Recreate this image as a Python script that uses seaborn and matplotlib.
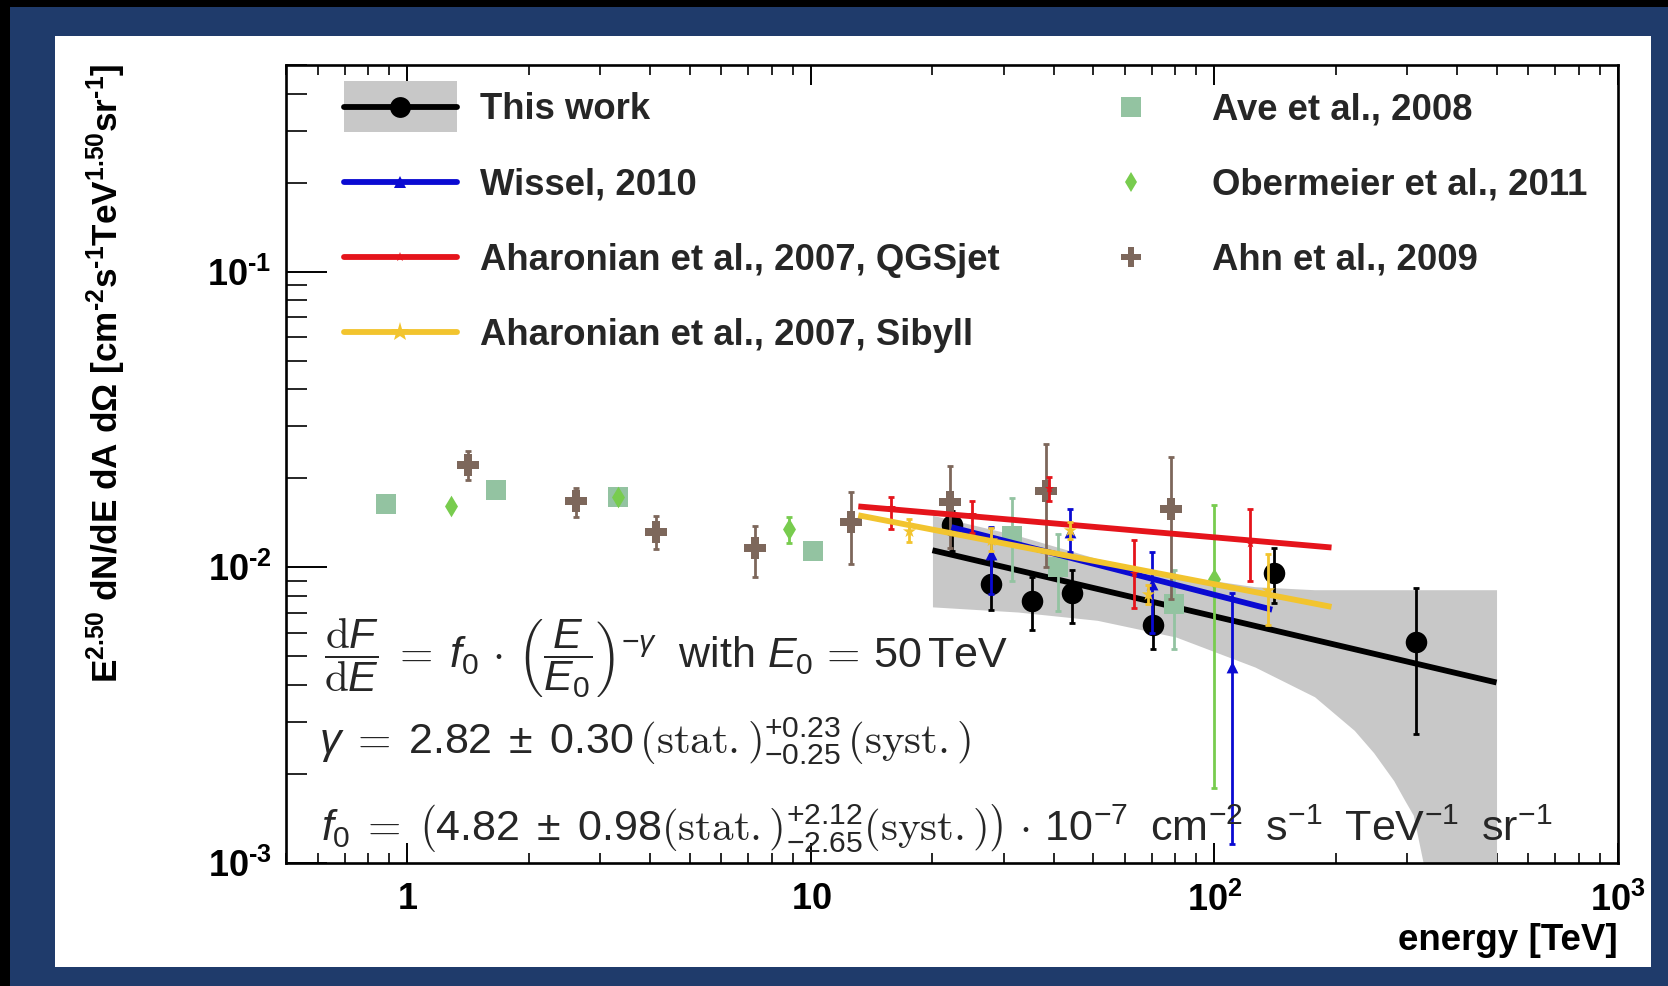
import numpy as np
import matplotlib
matplotlib.use("Agg")
import matplotlib.pyplot as plt
import seaborn as sns
from matplotlib.lines import Line2D
from matplotlib.patches import Rectangle
from matplotlib.legend_handler import HandlerLine2D
from matplotlib.ticker import FixedLocator, FixedFormatter, LogLocator, NullFormatter

# ---------------- data (energy in TeV, flux scaled by E^2.5) ----------------
# This work
E_this = [22.4, 28.0, 35.3, 44.4, 70.4, 140.5, 315.0]
F_this = [0.0139, 0.0088, 0.0077, 0.0082, 0.0064, 0.0096, 0.0056]
lo_this = [0.0114, 0.0072, 0.00616, 0.00646, 0.0053, 0.0076, 0.00274]
hi_this = [0.0155, 0.0105, 0.0093, 0.0098, 0.0077, 0.0116, 0.0085]

# power-law fit of this work
f0 = 4.82e-7          # cm^-2 s^-1 TeV^-1 sr^-1
gamma = 2.82
E0 = 50.0             # TeV
E_fit = [20.0, 500.0]

# fit uncertainty band
band_E = [20.0, 32.6, 51.2, 80.3, 126.0, 177.0, 222.0, 248.0, 278.0, 296.0, 311.0, 329.0, 400.0, 500.0]
band_lo = [0.00735, 0.00706, 0.00662, 0.00581, 0.0046, 0.00365, 0.00281, 0.00236, 0.0019, 0.00163,
           0.00145, 0.0010, 0.0005, 0.0003]
band_hi = [0.0150, 0.0128, 0.0107, 0.0094, 0.0086, 0.0084, 0.0084, 0.0084, 0.0084, 0.0084,
           0.0084, 0.0084, 0.0084, 0.0084]

# Wissel, 2010
E_wis = [28.0, 43.9, 69.9, 110.6]
F_wis = [0.0111, 0.0132, 0.0088, 0.0046]
lo_wis = [0.0081, 0.0113, 0.0060, 0.00116]
hi_wis = [0.0137, 0.0158, 0.0113, 0.0082]
E_wis_line = [22.3, 139.0]
F_wis_line = [0.01367, 0.00719]

# Aharonian et al., 2007, QGSjet
E_qgs = [15.8, 25.0, 38.9, 63.0, 122.6]
F_qgs = [0.0160, 0.0152, 0.0185, 0.0096, 0.0121]
lo_qgs = [0.0135, 0.0131, 0.0168, 0.0073, 0.0090]
hi_qgs = [0.0173, 0.0168, 0.0202, 0.0124, 0.0158]
E_qgs_line = [13.1, 195.0]
F_qgs_line = [0.01607, 0.01167]

# Aharonian et al., 2007, Sibyll
E_sib = [17.5, 28.0, 43.9, 68.3, 135.5]
F_sib = [0.0133, 0.0124, 0.0134, 0.0081, 0.0084]
lo_sib = [0.0122, 0.0114, 0.0125, 0.0075, 0.0064]
hi_sib = [0.0146, 0.0136, 0.0142, 0.0087, 0.0111]
E_sib_line = [13.1, 195.0]
F_sib_line = [0.0150, 0.00735]

# Ave et al., 2008
E_ave = [0.887, 1.66, 3.33, 10.1, 31.5, 40.9, 79.4]
F_ave = [0.0164, 0.0182, 0.0173, 0.0114, 0.0128, 0.0100, 0.0075]
lo_ave = [0.0164, 0.0182, 0.0173, 0.0114, 0.0090, 0.0071, 0.0053]
hi_ave = [0.0164, 0.0182, 0.0173, 0.0114, 0.0172, 0.0130, 0.0098]

# Obermeier et al., 2011
E_obe = [1.28, 3.33, 8.81, 100.0]
F_obe = [0.0161, 0.0173, 0.0135, 0.0091]
lo_obe = [0.0161, 0.0173, 0.0121, 0.0018]
hi_obe = [0.0161, 0.0173, 0.0148, 0.0163]

# Ahn et al., 2009
E_ahn = [1.41, 2.61, 4.14, 7.25, 12.6, 22.1, 38.3, 78.2]
F_ahn = [0.0222, 0.0167, 0.0132, 0.0116, 0.0142, 0.0166, 0.0181, 0.0158]
lo_ahn = [0.0198, 0.0148, 0.0115, 0.0093, 0.0103, 0.0116, 0.0100, 0.0078]
hi_ahn = [0.0248, 0.0186, 0.0149, 0.0138, 0.0180, 0.0221, 0.0262, 0.0236]

x_ticks = [1, 10, 100, 1000]
x_ticklabels = [r"$\mathbf{1}$", r"$\mathbf{10}$", r"$\mathbf{10^{2}}$", r"$\mathbf{10^{3}}$"]
y_ticks = [1e-3, 1e-2, 1e-1]
y_ticklabels = [r"$\mathbf{10^{‐3}}$", r"$\mathbf{10^{‐2}}$", r"$\mathbf{10^{‐1}}$"]

# ---------------- style ----------------
SLIDE_BLUE = "#1f3b6b"
BAND_GREY = "#c8c8c8"
BLUE = "#0a0ad2"
RED = "#e5141b"
YELLOW = "#f2c42e"
AVE_GREEN = "#93c3a1"
OBE_GREEN = "#78cc4e"
AHN_BROWN = "#7d675b"
LW_FIT = 4.2

sns.set_theme(style="ticks")
plt.rcParams.update({
    "font.family": ["Liberation Sans", "DejaVu Sans"],
    "mathtext.fontset": "custom",
    "mathtext.rm": "cmr10",
    "mathtext.it": "Liberation Sans:italic",
    "mathtext.bf": "Liberation Sans:bold",
    "mathtext.sf": "Liberation Sans",
    "mathtext.default": "sf",
    "axes.linewidth": 1.9,
    "axes.edgecolor": "black",
    "axes.formatter.use_mathtext": True,
})

W_PX, H_PX = 1668, 986
fig = plt.figure(figsize=(W_PX / 100, H_PX / 100), dpi=100, facecolor=SLIDE_BLUE)

# slide frame: black edges, white panel
fig.add_artist(Rectangle((0, 1 - 7 / H_PX), 1, 7 / H_PX, transform=fig.transFigure,
                         facecolor="black", edgecolor="none", zorder=-2))
fig.add_artist(Rectangle((0, 0), 10 / W_PX, 1, transform=fig.transFigure,
                         facecolor="black", edgecolor="none", zorder=-2))
fig.add_artist(Rectangle((55 / W_PX, 1 - 967 / H_PX), (1651 - 55) / W_PX, (967 - 36) / H_PX,
                         transform=fig.transFigure, facecolor="white", edgecolor="none", zorder=-1))

ax_l, ax_r, ax_t, ax_b = 286, 1618, 65, 863
ax = fig.add_axes([ax_l / W_PX, 1 - ax_b / H_PX, (ax_r - ax_l) / W_PX, (ax_b - ax_t) / H_PX])
ax.set_facecolor("white")
ax.set_xscale("log")
ax.set_yscale("log")


def errbars(E, F, lo, hi, color, z):
    F = np.asarray(F)
    yerr = [F - np.asarray(lo), np.asarray(hi) - F]
    ax.errorbar(E, F, yerr=yerr, fmt="none", ecolor=color, elinewidth=2.0,
                capsize=2.4, capthick=2.0, zorder=z)


# uncertainty band of the fit
ax.fill_between(band_E, band_lo, band_hi, color=BAND_GREY, linewidth=0, zorder=1)

# fit line drawn from the quoted parameters
E_fit_arr = np.array(E_fit)
F_fit = f0 * (E_fit_arr / E0) ** (-gamma) * E_fit_arr ** 2.5
sns.lineplot(x=E_fit, y=F_fit, ax=ax, color="black", linewidth=LW_FIT,
             solid_capstyle="butt", zorder=2, sort=False, estimator=None)

# This work
errbars(E_this, F_this, lo_this, hi_this, "black", 2.2)
sns.scatterplot(x=E_this, y=F_this, ax=ax, marker="o", s=15.5 ** 2, color="black",
                linewidth=0, zorder=2.3, legend=False)

# Ave et al.
errbars(E_ave, F_ave, lo_ave, hi_ave, AVE_GREEN, 3.0)
sns.scatterplot(x=E_ave, y=F_ave, ax=ax, marker="s", s=15 ** 2, color=AVE_GREEN,
                linewidth=0, zorder=3.1, legend=False)

# Ahn et al.
errbars(E_ahn, F_ahn, lo_ahn, hi_ahn, AHN_BROWN, 3.2)
sns.scatterplot(x=E_ahn, y=F_ahn, ax=ax, marker="P", s=16.5 ** 2, color=AHN_BROWN,
                linewidth=0, zorder=3.3, legend=False)

# Obermeier et al.
errbars(E_obe, F_obe, lo_obe, hi_obe, OBE_GREEN, 3.4)
sns.scatterplot(x=E_obe, y=F_obe, ax=ax, marker="d", s=11 ** 2, color=OBE_GREEN,
                linewidth=0, zorder=3.5, legend=False)

# Wissel
sns.lineplot(x=E_wis_line, y=F_wis_line, ax=ax, color=BLUE, linewidth=LW_FIT,
             solid_capstyle="butt", zorder=4.0, sort=False, estimator=None)
errbars(E_wis, F_wis, lo_wis, hi_wis, BLUE, 4.1)
sns.scatterplot(x=E_wis, y=F_wis, ax=ax, marker="^", s=8.5 ** 2, color=BLUE,
                linewidth=0, zorder=4.2, legend=False)

# Aharonian QGSjet
sns.lineplot(x=E_qgs_line, y=F_qgs_line, ax=ax, color=RED, linewidth=LW_FIT,
             solid_capstyle="butt", zorder=4.3, sort=False, estimator=None)
errbars(E_qgs, F_qgs, lo_qgs, hi_qgs, RED, 4.4)
sns.scatterplot(x=E_qgs, y=F_qgs, ax=ax, marker="*", s=7 ** 2, color=RED,
                linewidth=0, zorder=4.5, legend=False)

# Aharonian Sibyll
sns.lineplot(x=E_sib_line, y=F_sib_line, ax=ax, color=YELLOW, linewidth=LW_FIT,
             solid_capstyle="butt", zorder=4.6, sort=False, estimator=None)
errbars(E_sib, F_sib, lo_sib, hi_sib, YELLOW, 4.7)
sns.scatterplot(x=E_sib, y=F_sib, ax=ax, marker="*", s=10 ** 2, color=YELLOW,
                linewidth=0, zorder=4.8, legend=False)

ax.set_xlim(0.5, 1000)
ax.set_ylim(1e-3, 0.5)
ax.set_xlabel("")
ax.set_ylabel("")

# ticks
ax.xaxis.set_major_locator(FixedLocator(x_ticks))
ax.xaxis.set_major_formatter(FixedFormatter(x_ticklabels))
ax.xaxis.set_minor_locator(LogLocator(base=10, subs=np.arange(2, 10), numticks=30))
ax.xaxis.set_minor_formatter(NullFormatter())
ax.yaxis.set_major_locator(FixedLocator(y_ticks))
ax.yaxis.set_major_formatter(FixedFormatter(y_ticklabels))
ax.yaxis.set_minor_locator(LogLocator(base=10, subs=np.arange(2, 10), numticks=30))
ax.yaxis.set_minor_formatter(NullFormatter())
ax.tick_params(axis="x", which="major", direction="in", length=14.5, width=1.4,
               top=True, bottom=True, labelsize=26, pad=14, colors="black")
ax.tick_params(axis="x", which="minor", direction="in", length=7, width=1.4,
               top=True, bottom=True)
ax.tick_params(axis="y", which="major", direction="in", length=29.5, width=1.4,
               left=True, right=False, labelsize=26, pad=10.3, colors="black")
ax.tick_params(axis="y", which="minor", direction="in", length=15, width=1.4,
               left=True, right=False)
for s in ax.spines.values():
    s.set_linewidth(1.9)
    s.set_zorder(6)


# legend
class HandlerBand(HandlerLine2D):
    def create_artists(self, legend, orig_handle, xdescent, ydescent, width, height,
                       fontsize, trans):
        arts = super().create_artists(legend, orig_handle, xdescent, ydescent, width,
                                      height, fontsize, trans)
        yc = (height - ydescent) / 2.0
        box_h = 36.7
        rect = Rectangle((-xdescent, yc - box_h / 2), width, box_h, facecolor=BAND_GREY,
                         edgecolor="none", transform=trans)
        return [rect] + list(arts)


leg_font = {"family": "Liberation Sans", "weight": "bold", "size": 26.3}
h_this = Line2D([], [], color="black", lw=LW_FIT, marker="o", ms=15, mew=0)
h_wis = Line2D([], [], color=BLUE, lw=LW_FIT, marker="^", ms=8.5, mew=0)
h_qgs = Line2D([], [], color=RED, lw=LW_FIT, marker="*", ms=7, mew=0)
h_sib = Line2D([], [], color=YELLOW, lw=LW_FIT, marker="*", ms=14, mew=0)
leg1 = ax.legend([h_this, h_wis, h_qgs, h_sib],
                 ["This work", "Wissel, 2010", "Aharonian et al., 2007, QGSjet",
                  "Aharonian et al., 2007, Sibyll"],
                 loc="upper left", bbox_to_anchor=(0.0435, 0.9656), frameon=False,
                 prop=leg_font, handlelength=3.09, handletextpad=0.64, labelspacing=1.10,
                 borderpad=0, borderaxespad=0, numpoints=1,
                 handler_map={h_this: HandlerBand()})
ax.add_artist(leg1)
h_ave = Line2D([], [], ls="none", color=AVE_GREEN, marker="s", ms=15, mew=0)
h_obe = Line2D([], [], ls="none", color=OBE_GREEN, marker="d", ms=10.5, mew=0)
h_ahn = Line2D([], [], ls="none", color=AHN_BROWN, marker="P", ms=15, mew=0)
leg2 = ax.legend([h_ave, h_obe, h_ahn],
                 ["Ave et al., 2008", "Obermeier et al., 2011", "Ahn et al., 2009"],
                 loc="upper left", bbox_to_anchor=(0.592, 0.9656), frameon=False,
                 prop=leg_font, handlelength=3.09, handletextpad=0.66, labelspacing=1.10,
                 borderpad=0, borderaxespad=0, numpoints=1)
for lg in (leg1, leg2):
    lg.set_zorder(7)

# fit formula
fs_f = 31
ax.text(0.0285, 0.2444,
        r"$\dfrac{\mathrm{d}\mathit{F}}{\mathrm{d}\mathit{E}}\;\mathrm{=}\;\mathit{f}_{0}\,\cdot\,"
        r"\left(\dfrac{\mathit{E}}{\mathit{E}_{0}}\right)^{-\mathit{\gamma}}$  with "
        r"$\mathit{E}_{0}\,\mathrm{=}\,50\,$TeV",
        transform=ax.transAxes, ha="left", va="baseline", fontsize=fs_f, zorder=5)
ax.text(0.0248, 0.1378,
        r"$\mathit{\gamma}\;\mathrm{=}\;2.82\;\pm\;0.30\,\mathrm{(stat.)}^{+0.23}_{-0.25}"
        r"\,\mathrm{(syst.)}$",
        transform=ax.transAxes, ha="left", va="baseline", fontsize=fs_f, zorder=5)
ax.text(0.0263, 0.0288,
        r"$\mathit{f}_{0}\;\mathrm{=}\;\left(4.82\;\pm\;0.98\mathrm{(stat.)}^{+2.12}_{-2.65}"
        r"\mathrm{(syst.)}\right)\,\cdot\,10^{-7}\ \;cm^{-2}\ \;s^{-1}\ \;TeV^{-1}\ \;sr^{-1}$",
        transform=ax.transAxes, ha="left", va="baseline", fontsize=fs_f, zorder=5)

# axis titles
fig.text(106 / W_PX, 1 - 64 / H_PX,
         r"$\mathbf{E^{2.50}\ dN/dE\ dA\ d\Omega\ [cm^{‐2}s^{‐1}TeV^{1.50}sr^{‐1}]}$",
         rotation=90, ha="center", va="top", fontsize=25.3, color="black")
fig.text(ax_r / W_PX, 1 - 941 / H_PX, "energy [TeV]", ha="right", va="center",
         fontsize=26.5, fontweight="bold", color="black")

fig.savefig("out.png", dpi=100, facecolor=fig.get_facecolor())
